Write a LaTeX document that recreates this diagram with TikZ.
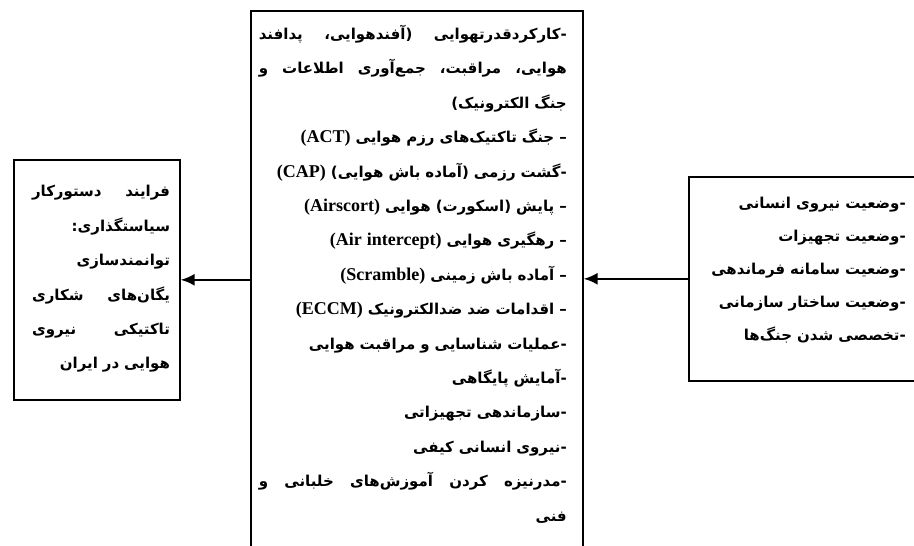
\documentclass[tikz,border=0pt]{standalone}
\usepackage{fontspec}
\usetikzlibrary{arrows.meta}
\TeXXeTstate=1
\newfontfamily\farsifont[Script=Arabic]{DejaVu Sans}
\newfontfamily\timesfont{Liberation Serif}
\newcommand{\rl}[1]{\beginR #1\endR}
\newcommand{\rlfull}[1]{\makebox[\hsize][s]{\spaceskip=0.3em plus 1fil\relax\beginR #1\endR}}
\newcommand{\lr}[1]{\beginL{\timesfont\bfseries\fontsize{18}{34.4}\selectfont #1}\endL}

\begin{document}
\begin{tikzpicture}[x=1pt, y=-1pt,
framebox/.style={draw, line width=1.6pt, inner sep=0pt, anchor=north west},
persiantext/.style={font={\farsifont\bfseries\fontsize{15}{34.4}\selectfont}, align=right, inner sep=0pt},
flowarrow/.style={line width=2.2pt, -{Latex[length=14pt, width=12pt]}},
]
\useasboundingbox (0,0) rectangle (914,546);
\clip (0,0) rectangle (914,546);

%Boxes
\node[framebox, minimum width=166pt, minimum height=240pt] (policy) at (13,159) {};
\node[framebox, minimum width=332pt, minimum height=560pt] (tasks) at (250,10) {};
\node[framebox, minimum width=240pt, minimum height=204pt] (status) at (688,176) {};

%Texts
\node[persiantext, text width=138pt] (policytext) at (101,279) {%
\rlfull{فرایند دستورکار}\\
\rl{سیاستگذاری:}\\
\rl{توانمندسازی}\\
\rlfull{یگان‌های شکاری}\\
\rlfull{تاکتیکی نیروی}\\
\rl{هوایی در ایران}};

\node[persiantext, text width=308pt, anchor=north east] (taskstext) at (567,25) {%
\rlfull{-کارکردقدرتهوایی (آفندهوایی، پدافند}\\
\rlfull{هوایی، مراقبت، جمع‌آوری اطلاعات و}\\
\rl{جنگ الکترونیک)}\\
\rl{– جنگ تاکتیک‌های رزم هوایی \lr{(ACT)}}\\
\rl{-گشت رزمی (آماده باش هوایی) \lr{(CAP)}}\\
\rl{– پایش (اسکورت) هوایی \lr{(Airscort)}}\\
\rl{– رهگیری هوایی \lr{(Air intercept)}}\\
\rl{– آماده باش زمینی \lr{(Scramble)}}\\
\rl{– اقدامات ضد ضدالکترونیک \lr{(ECCM)}}\\
\rl{-عملیات شناسایی و مراقبت هوایی}\\
\rl{-آمایش پایگاهی}\\
\rl{-سازماندهی تجهیزاتی}\\
\rl{-نیروی انسانی کیفی}\\
\rlfull{-مدرنیزه کردن آموزش‌های خلبانی و}\\
\rl{فنی}};

\node[persiantext, text width=200pt, anchor=east, font={\farsifont\bfseries\fontsize{15}{33}\selectfont}] (statustext) at (906,270) {%
\rl{-وضعیت نیروی انسانی}\\
\rl{-وضعیت تجهیزات}\\
\rl{-وضعیت سامانه فرماندهی}\\
\rl{-وضعیت ساختار سازمانی}\\
\rl{-تخصصی شدن جنگ‌ها}};

%Arrows
\draw[flowarrow] (status.west) -- (status.west -| tasks.east);
\draw[flowarrow] (policy.east -| tasks.west) -- (policy.east);
\end{tikzpicture}
\end{document}
